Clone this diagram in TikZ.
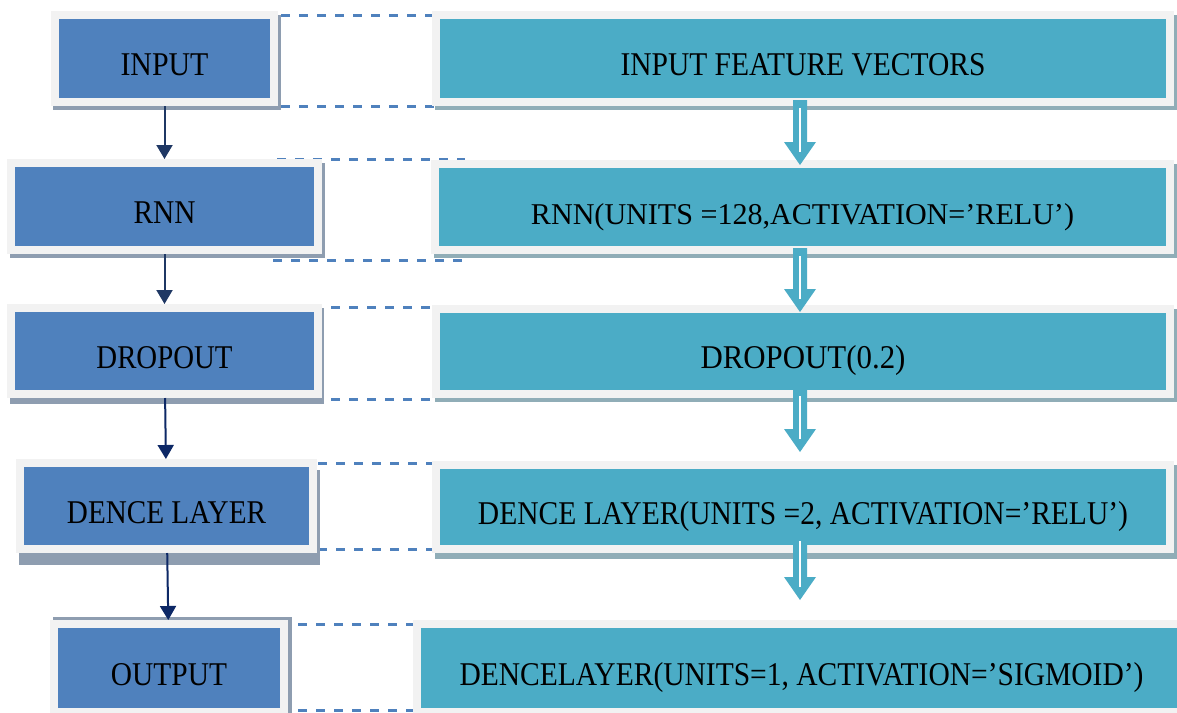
\documentclass[tikz,border=0pt]{standalone}
\usepackage{fontspec}
\setmainfont{Liberation Serif}
\usepackage{graphicx}
\usetikzlibrary{arrows.meta,calc}
\definecolor{bluebox}{HTML}{4F81BD}
\definecolor{tealbox}{HTML}{4BACC6}
\definecolor{framec}{HTML}{F2F2F2}
\definecolor{shadL}{HTML}{8E9DB0}
\definecolor{shadR}{HTML}{90ADB7}
\definecolor{dashc}{HTML}{4F81BD}
\definecolor{navyA}{HTML}{1F3864}
\definecolor{navyB}{HTML}{0D2866}
\pgfdeclarelayer{dashlayer}
\pgfsetlayers{dashlayer,main}
\newcommand\fitw[2]{\resizebox{#1}{\height}{#2}}
\newcommand\hollowarrow[2]{%
  \fill[tealbox] let \p1=(#1), \p2=(#2) in
    (\x1-3.5pt,\y1) -- (\x1+3.5pt,\y1) -- (\x1+3.5pt,\y2+11.5pt) -- (\x1+8pt,\y2+11.5pt)
    -- (\x1,\y2) -- (\x1-8pt,\y2+11.5pt) -- (\x1-3.5pt,\y2+11.5pt) -- cycle;
  \draw[white, line width=1.3pt] let \p1=(#1), \p2=(#2) in (\x1,\y1-4pt) -- (\x1,\y2+6.5pt);
}
\begin{document}
\begin{tikzpicture}[x=0.5pt,y=-0.5pt,
  basebox/.style={draw=framec, line width=4pt, inner sep=0pt, outer sep=0pt, text height=17pt, text depth=0pt,
    font=\fontsize{16.6pt}{20pt}\selectfont, text=black},
  lbox/.style={basebox, fill=bluebox},
  rbox/.style={basebox, fill=tealbox},
  dashl/.style={draw=dashc, line width=1.5pt, dash pattern=on 4.5pt off 4.5pt},
  flowA/.style={draw=navyA, line width=1pt, -{Triangle[width=8pt,length=7pt]}, shorten >=2pt, shorten <=2pt},
  flowB/.style={flowA, draw=navyB}]
\useasboundingbox (0,0) rectangle (1177,712);

% shadows
\fill[shadL] (53,15) rectangle (281,110);
\fill[shadL] (10,163) rectangle (325,258);
\fill[shadL] (10,308) rectangle (324,404);
\fill[shadL] (19,470) rectangle (320,565);
\fill[shadL] (53,617) rectangle (292,716);
\fill[shadR] (435,15) rectangle (1177,110);
\fill[shadR] (434,164) rectangle (1177,258);
\fill[shadR] (435,309) rectangle (1177,402);
\fill[shadR] (435,465) rectangle (1177,559);

% left boxes
\node[lbox, minimum width=109.5pt, minimum height=43.5pt] (L1) at (164.5,58.5) {\fitw{44pt}{INPUT}};
\node[lbox, minimum width=153.5pt, minimum height=43.5pt] (L2) at (164.5,206.5) {\fitw{31pt}{RNN}};
\node[lbox, minimum width=153.5pt, minimum height=43pt] (L3) at (164.5,351) {\fitw{68pt}{DROPOUT}};
\node[lbox, minimum width=146.5pt, minimum height=43pt] (L4) at (166.5,506) {\fitw{99.5pt}{DENCE LAYER}};
\node[lbox, minimum width=115pt, minimum height=44pt] (L5) at (169,668) {\fitw{58pt}{OUTPUT}};

% right boxes
\node[rbox, minimum width=367pt, minimum height=43.5pt] (R1) at (803,58.5) {\fitw{182.5pt}{INPUT FEATURE VECTORS}};
\node[rbox, minimum width=367.5pt, minimum height=43pt, font=\fontsize{15.1pt}{18pt}\selectfont] (R2) at (802.5,207) {\fitw{271.5pt}{RNN(UNITS =128,ACTIVATION=’RELU’)}};
\node[rbox, minimum width=367pt, minimum height=42.5pt] (R3) at (803,351.5) {\fitw{102.5pt}{DROPOUT(0.2)}};
\node[rbox, minimum width=367pt, minimum height=42pt] (R4) at (803,507) {\fitw{325pt}{DENCE LAYER(UNITS =2, ACTIVATION=’RELU’)}};
\node[rbox, minimum width=384.5pt, minimum height=44pt] (R5) at (801.5,668) {\fitw{342pt}{DENCELAYER(UNITS=1, ACTIVATION=’SIGMOID’)}};

% dashed links
\begin{pgfonlayer}{dashlayer}
\fill[white] (0,0) rectangle (1177,712);
\draw[dashl] ($(L1.north east)+(-11,0)$) -- ($(R1.north west)+(16,0)$);
\draw[dashl] ($(L1.south east)+(-11,4)$) -- ($(R1.south west)+(16,4)$);
\draw[dashl] ($(L2.north east)+(-41,-4)$) -- ($(R2.north west)+(30,-5)$);
\draw[dashl] ($(L2.south east)+(-45,10)$) -- ($(R2.south west)+(28,10)$);
\draw[dashl] ($(L3.north east)+(-41,-1)$) -- ($(R3.north west)+(16,-2)$);
\draw[dashl] ($(L3.south east)+(-41,5)$) -- ($(R3.south west)+(16,5)$);
\draw[dashl] ($(L4.north east)+(-13,0)$) -- ($(R4.north west)+(9,-2)$);
\draw[dashl] ($(L4.south east)+(-13,0)$) -- ($(R4.south west)+(9,0)$);
\draw[dashl] ($(L5.north east)+(-4,0)$) -- ($(R5.north west)+(8,0)$);
\draw[dashl] ($(L5.south east)+(-4,-2)$) -- ($(R5.south west)+(8,-2)$);
\end{pgfonlayer}

% left flow arrows
\draw[flowA] (L1) -- (L2);
\draw[flowA] (L2) -- (L3);
\draw[flowB] (L3) -- (L4);
\draw[flowB] (L4) -- (L5);

% right hollow arrows
\hollowarrow{$(R1.south)+(-3,-2)$}{$(R2.north)+(-3,1)$}
\hollowarrow{$(R2.south)+(-2.5,-2)$}{$(R3.north)+(-3,3)$}
\hollowarrow{$(R3.south)+(-3,-6)$}{$(R4.north)+(-3,-13)$}
\hollowarrow{$(R4.south)+(-3,-16)$}{$(R5.north)+(-1.5,-24)$}
\end{tikzpicture}
\end{document}
